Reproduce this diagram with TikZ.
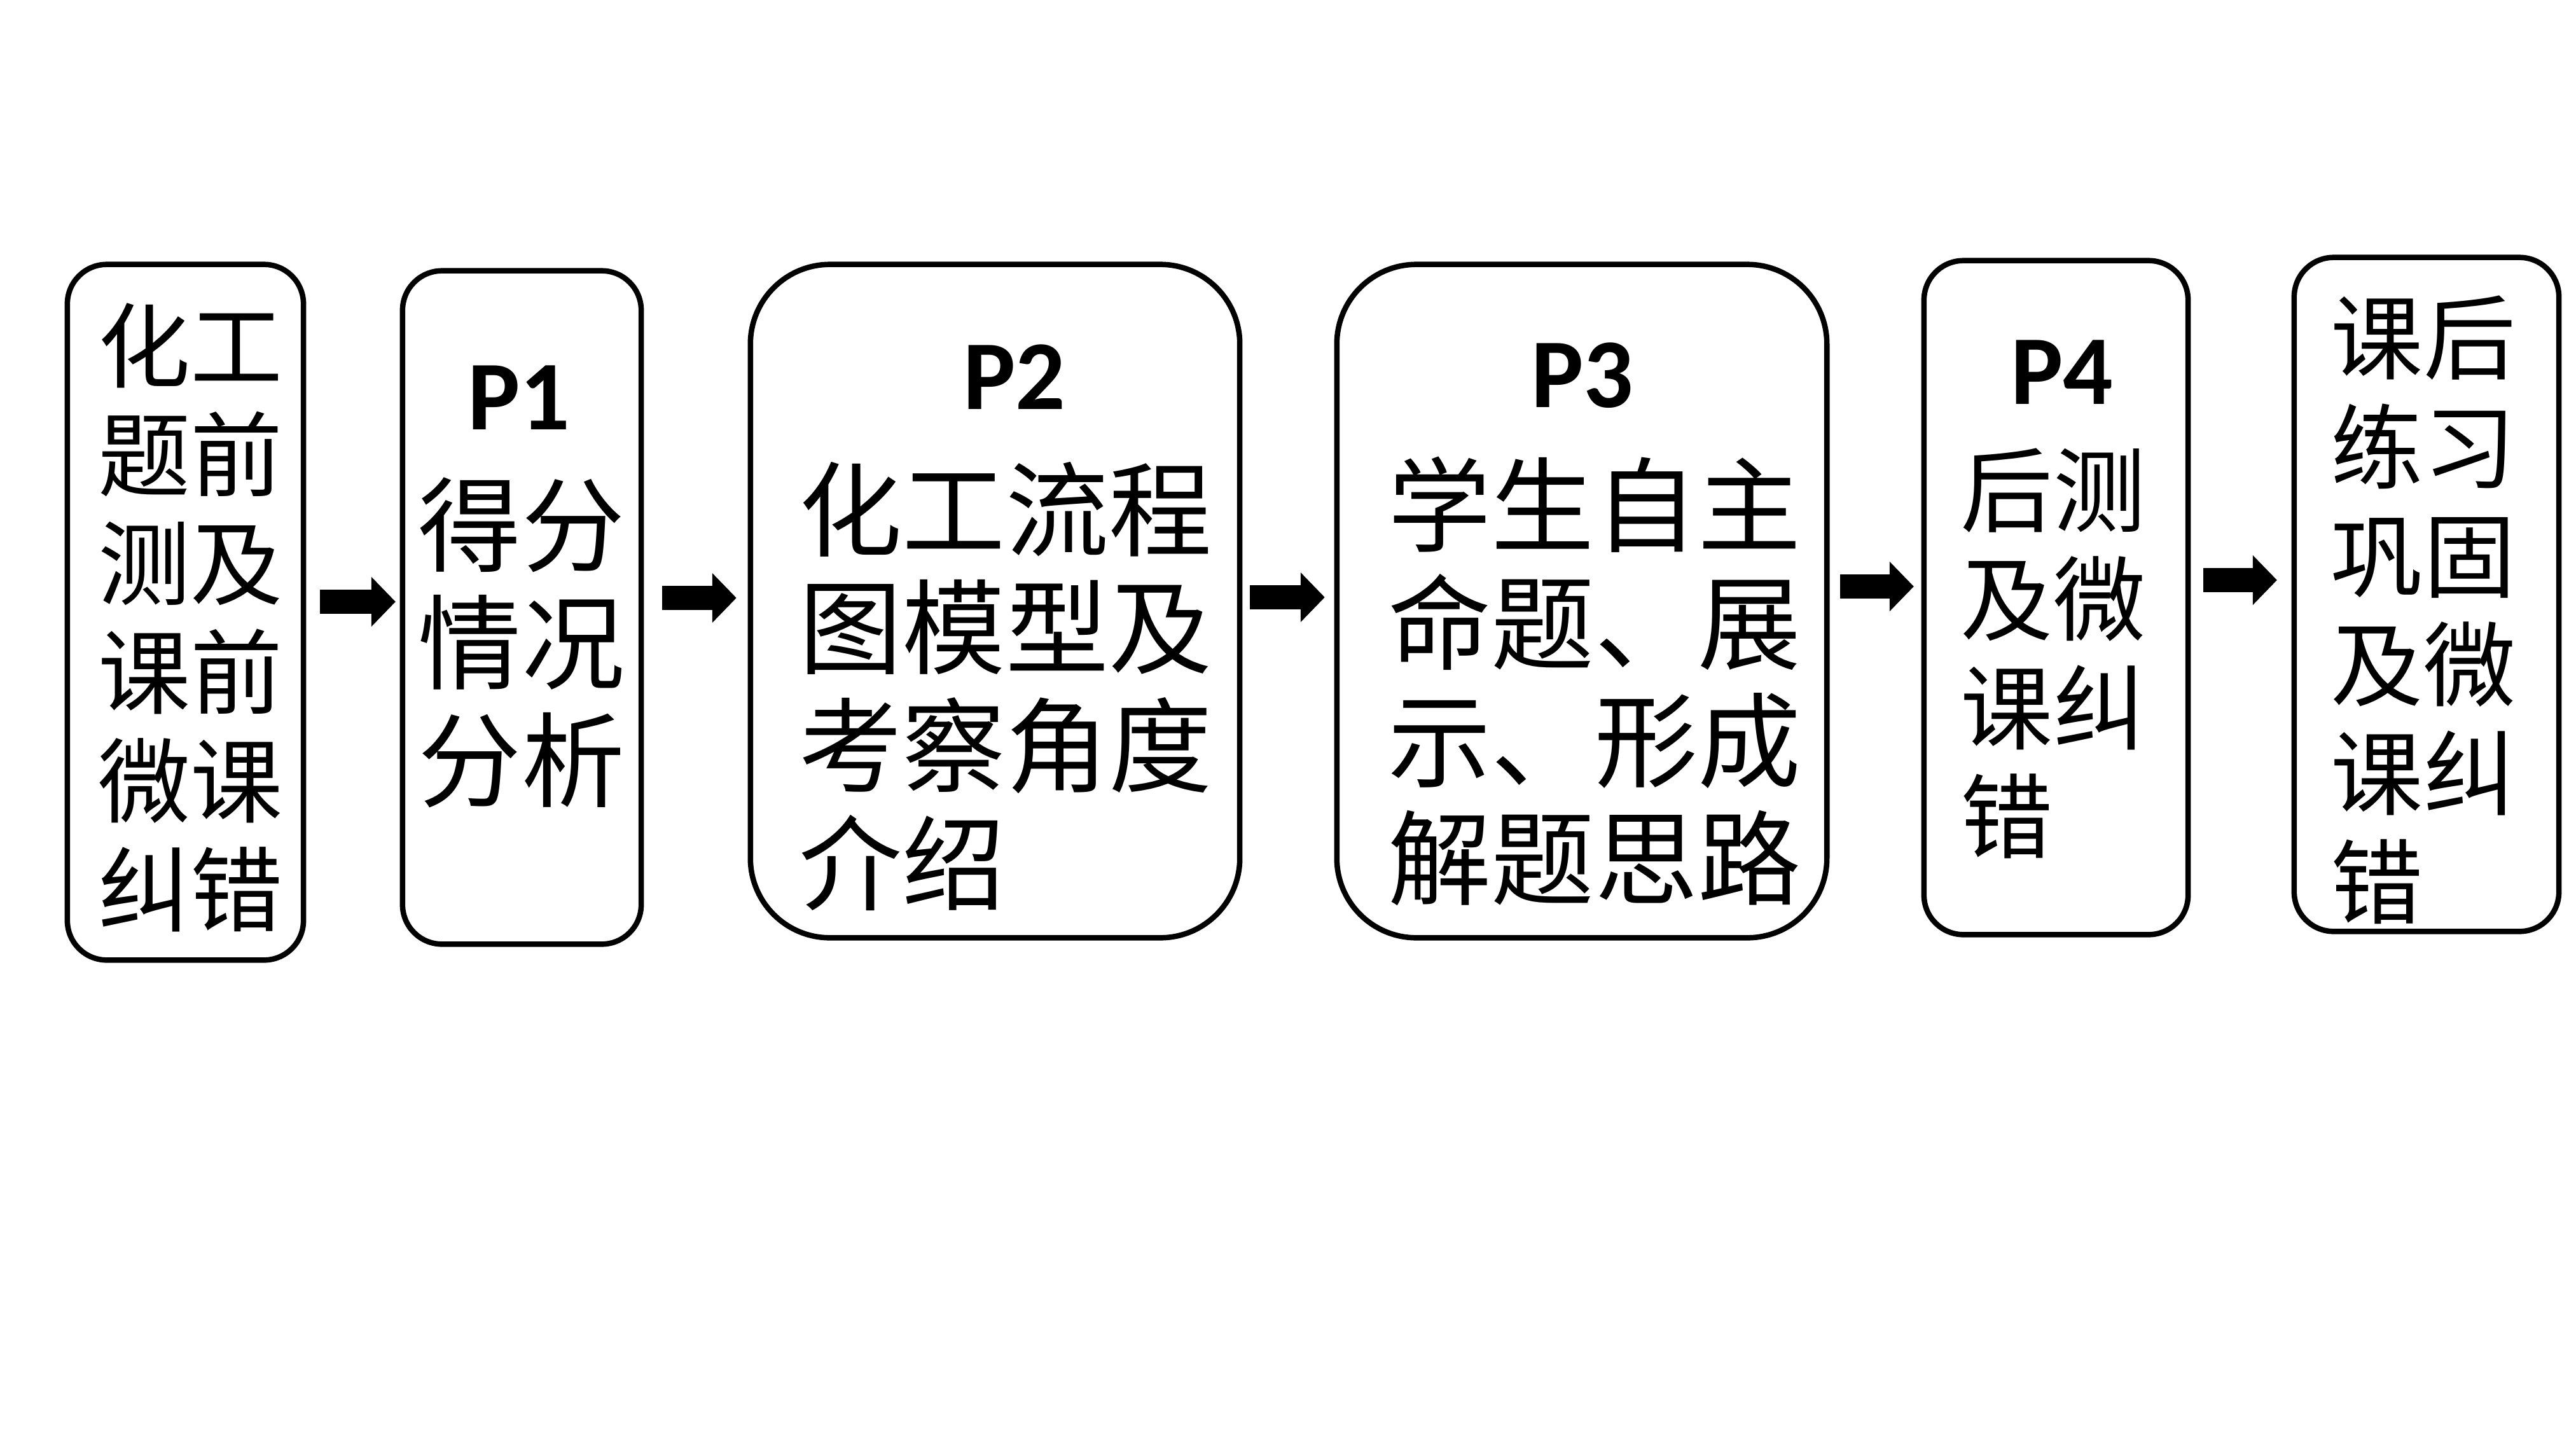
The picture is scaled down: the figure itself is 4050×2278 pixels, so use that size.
\documentclass[tikz,border=0pt]{standalone}
\usepackage{fontspec}
\newfontfamily\cjk{Noto Sans CJK SC}
\newfontfamily\plab{Carlito}
\usetikzlibrary{arrows.meta}
\begin{document}
\begin{tikzpicture}[x=0.01cm, y=-0.01cm,
  box/.style={draw, line width=0.085cm, rounded corners=0.62cm, inner sep=0pt, outer sep=0pt},
  bigbox/.style={box, rounded corners=1.25cm},
  ptext/.style={font=\plab\bfseries\fontsize{1.55cm}{1.8cm}\selectfont, inner sep=0pt},
  ctext/.style={font=\cjk\fontsize{1.45cm}{1.71cm}\selectfont, align=left, inner sep=0pt},
  ctextL/.style={font=\cjk\fontsize{1.62cm}{1.85cm}\selectfont, align=left, inner sep=0pt},
  flow/.style={line width=0.38cm, -{Triangle[length=0.38cm, width=0.76cm]}}
]
\useasboundingbox (0,0) rectangle (4050,2278);
\fill[white] (0,0) rectangle (4050,2278);

% boxes
\node[box, minimum width=3.71cm, minimum height=10.93cm] (b1) at (291.5,962.5) {};
\node[box, minimum width=3.75cm, minimum height=10.58cm] (b2) at (820.5,955) {};
\node[bigbox, minimum width=7.69cm, minimum height=10.58cm] (b3) at (1564.5,945) {};
\node[bigbox, minimum width=7.70cm, minimum height=10.58cm] (b4) at (2487,945) {};
\node[box, minimum width=4.15cm, minimum height=10.59cm] (b5) at (3232.5,939.5) {};
\node[box, minimum width=4.16cm, minimum height=10.59cm] (b6) at (3815,934.5) {};

% texts
\node[ctext] (t1) at (300,971) {化工\\题前\\测及\\课前\\微课\\纠错};
\node[ptext] (p1) at (816,625) {P1};
\node[ctextL] (t2) at (820,1010) {得分\\情况\\分析};
\node[ptext] (p2) at (1595,593) {P2};
\node[ctextL] (t3) at (1581,1079) {化工流程\\图模型及\\考察角度\\介绍};
\node[ptext] (p3) at (2488,590) {P3};
\node[ctextL] (t4) at (2507,1071) {学生自主\\命题、展\\示、形成\\解题思路};
\node[ptext] (p4) at (3242,585) {P4};
\node[ctext] (t5) at (3228,1027) {后测\\及微\\课纠\\错};
\node[ctext] (t6) at (3810,959) {课后\\练习\\巩固\\及微\\课纠\\错};

% arrows
\draw[flow, shorten <=0.26cm, shorten >=0.11cm] (b1.east |- 0,946) -- (b2.west |- 0,946);
\draw[flow, shorten <=0.33cm, shorten >=0.22cm] (b2.east |- 0,940) -- (b3.west |- 0,940);
\draw[flow, shorten <=0.16cm, shorten >=0.19cm] (b3.east |- 0,939) -- (b4.west |- 0,939);
\draw[flow, shorten <=0.21cm, shorten >=0.16cm] (b4.east |- 0,922) -- (b5.west |- 0,922);
\draw[flow, shorten <=0.24cm, shorten >=0.27cm] (b5.east |- 0,912) -- (b6.west |- 0,912);
\end{tikzpicture}
\end{document}
